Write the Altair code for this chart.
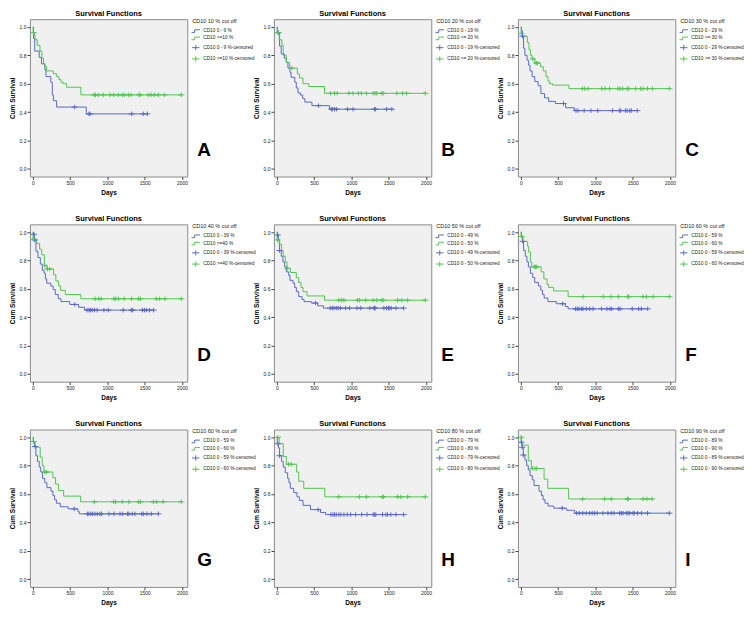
import altair as alt
import pandas as pd

BLUE = "#5a6ac8"
GREEN = "#52c652"
FONT = "Liberation Sans"

# ---------------- data ----------------
# Panel A
A_bt = [0, 8, 25, 85, 115, 160, 175, 240, 260, 275, 318, 716, 1535]
A_bs = [1.0, 0.92, 0.83, 0.785, 0.74, 0.70, 0.65, 0.61, 0.52, 0.48, 0.435, 0.387, 0.387]
A_bc = [560, 752, 765, 1325, 1480, 1535]
A_gt = [0, 3, 20, 30, 58, 95, 120, 143, 160, 184, 273, 318, 349, 376, 407, 452, 644, 1990]
A_gs = [1.0, 0.96, 0.94, 0.91, 0.87, 0.83, 0.78, 0.74, 0.72, 0.69, 0.67, 0.65, 0.63, 0.61, 0.60, 0.575, 0.521, 0.521]
A_gc = [10, 820, 840, 877, 944, 1034, 1083, 1145, 1199, 1226, 1280, 1315, 1420, 1440, 1548, 1584, 1629, 1682, 1763, 1990]
# Panel B
B_bt = [0, 5, 36, 58, 100, 126, 148, 175, 190, 240, 260, 283, 315, 346, 375, 470, 705, 1550]
B_bs = [1.0, 0.96, 0.865, 0.81, 0.78, 0.75, 0.71, 0.68, 0.645, 0.61, 0.57, 0.535, 0.52, 0.495, 0.47, 0.445, 0.42, 0.42]
B_bc = [20, 557, 730, 748, 775, 800, 948, 1020, 1308, 1320, 1470, 1541]
B_gt = [0, 5, 31, 67, 85, 126, 171, 274, 301, 350, 427, 638, 1990]
B_gs = [1.0, 0.96, 0.91, 0.87, 0.80, 0.75, 0.71, 0.67, 0.64, 0.60, 0.58, 0.532, 0.532]
B_gc = [15, 200, 719, 773, 809, 966, 1020, 1092, 1133, 1200, 1290, 1317, 1339, 1407, 1425, 1609, 1685, 1739, 1990]
# Panel C
C_bt = [0, 8, 20, 36, 54, 82, 104, 122, 150, 186, 231, 268, 317, 372, 463, 599, 716, 1560]
C_bs = [1.0, 0.975, 0.935, 0.85, 0.80, 0.765, 0.73, 0.69, 0.65, 0.615, 0.585, 0.53, 0.50, 0.475, 0.46, 0.43, 0.41, 0.41]
C_bc = [22, 571, 739, 766, 848, 939, 1030, 1229, 1320, 1338, 1401, 1424, 1460, 1480, 1560]
C_gt = [0, 3, 15, 86, 109, 127, 150, 186, 263, 300, 336, 363, 381, 426, 644, 1990]
C_gs = [1.0, 0.955, 0.935, 0.89, 0.84, 0.80, 0.775, 0.745, 0.72, 0.69, 0.65, 0.62, 0.60, 0.59, 0.565, 0.565]
C_gc = [8, 159, 204, 222, 825, 857, 902, 1084, 1129, 1188, 1302, 1329, 1365, 1424, 1447, 1537, 1605, 1637, 1696, 1764, 1990]
# Panel D
D_bt = [0, 10, 20, 41, 68, 100, 127, 150, 168, 186, 240, 272, 300, 340, 376, 494, 612, 694, 1620]
D_bs = [1.0, 0.985, 0.945, 0.865, 0.82, 0.775, 0.73, 0.71, 0.67, 0.64, 0.62, 0.595, 0.56, 0.53, 0.51, 0.49, 0.47, 0.45, 0.45]
D_bc = [12, 25, 562, 726, 753, 771, 794, 825, 862, 952, 1011, 1211, 1320, 1338, 1469, 1497, 1524, 1565, 1619]
D_gt = [0, 2, 50, 90, 118, 154, 186, 277, 308, 345, 372, 435, 644, 1990]
D_gs = [1.0, 0.95, 0.92, 0.88, 0.84, 0.765, 0.74, 0.70, 0.655, 0.62, 0.59, 0.56, 0.53, 0.53]
D_gc = [5, 160, 195, 227, 834, 884, 916, 1088, 1111, 1147, 1224, 1324, 1415, 1442, 1655, 1700, 1769, 1990]
# Panel E
E_bt = [0, 8, 20, 36, 58, 81, 104, 126, 158, 175, 216, 238, 261, 292, 337, 364, 463, 548, 625, 1700]
E_bs = [1.0, 0.98, 0.945, 0.87, 0.83, 0.79, 0.755, 0.72, 0.695, 0.66, 0.64, 0.61, 0.58, 0.545, 0.525, 0.51, 0.50, 0.48, 0.464, 0.464]
E_bc = [10, 36, 517, 715, 742, 764, 796, 822, 854, 921, 975, 1074, 1124, 1245, 1303, 1308, 1317, 1434, 1470, 1497, 1506, 1533, 1596, 1699]
E_gt = [0, 2, 31, 63, 85, 112, 135, 180, 260, 292, 324, 350, 404, 638, 1990]
E_gs = [1.0, 0.945, 0.915, 0.87, 0.83, 0.79, 0.745, 0.715, 0.68, 0.645, 0.61, 0.58, 0.55, 0.52, 0.52]
E_gc = [8, 140, 831, 867, 899, 1083, 1106, 1191, 1290, 1339, 1407, 1425, 1618, 1676, 1753, 1990]
# Panel F
F_bt = [0, 8, 22, 36, 59, 81, 100, 127, 158, 186, 235, 267, 290, 312, 362, 475, 597, 633, 1700]
F_bs = [1.0, 0.97, 0.935, 0.87, 0.83, 0.79, 0.755, 0.71, 0.68, 0.645, 0.62, 0.59, 0.56, 0.535, 0.51, 0.495, 0.475, 0.459, 0.459]
F_bc = [25, 561, 733, 756, 778, 810, 833, 878, 923, 968, 1081, 1154, 1195, 1217, 1308, 1330, 1493, 1579, 1615, 1700]
F_gt = [0, 2, 27, 90, 104, 127, 145, 271, 308, 350, 371, 439, 633, 1990]
F_gs = [1.0, 0.97, 0.935, 0.90, 0.86, 0.79, 0.755, 0.72, 0.67, 0.63, 0.61, 0.585, 0.545, 0.545]
F_gc = [10, 177, 195, 213, 833, 1104, 1208, 1308, 1430, 1448, 1638, 1683, 1774, 1990]
# Panel G
G_bt = [0, 8, 22, 40, 62, 85, 105, 130, 160, 188, 242, 268, 290, 315, 367, 474, 604, 622, 1690]
G_bs = [1.0, 0.97, 0.935, 0.87, 0.83, 0.79, 0.755, 0.71, 0.68, 0.645, 0.62, 0.59, 0.56, 0.535, 0.51, 0.495, 0.475, 0.46, 0.46]
G_bc = [30, 555, 733, 752, 778, 801, 832, 864, 899, 922, 1020, 1087, 1168, 1204, 1270, 1288, 1333, 1369, 1459, 1481, 1530, 1588, 1682]
G_gt = [0, 3, 27, 98, 125, 148, 268, 304, 345, 412, 640, 1990]
G_gs = [1.0, 0.97, 0.93, 0.86, 0.80, 0.755, 0.715, 0.67, 0.625, 0.585, 0.545, 0.545]
G_gc = [8, 161, 183, 823, 1083, 1110, 1199, 1289, 1414, 1441, 1615, 1660, 1745, 1990]
# Panel H
H_bt = [0, 5, 22, 36, 63, 85, 112, 144, 162, 180, 225, 270, 301, 350, 450, 585, 652, 1700]
H_bs = [1.0, 0.955, 0.925, 0.87, 0.83, 0.79, 0.75, 0.71, 0.68, 0.64, 0.61, 0.58, 0.555, 0.52, 0.49, 0.47, 0.455, 0.455]
H_bc = [13, 36, 553, 724, 751, 773, 796, 831, 858, 899, 944, 989, 1056, 1137, 1209, 1290, 1308, 1326, 1416, 1461, 1483, 1528, 1596, 1699]
H_gt = [0, 31, 85, 126, 265, 292, 360, 643, 1990]
H_gs = [1.0, 0.955, 0.865, 0.81, 0.755, 0.69, 0.64, 0.58, 0.58]
H_gc = [13, 157, 193, 831, 1106, 1200, 1416, 1425, 1618, 1663, 1753, 1990]
# Panel I
I_bt = [0, 5, 18, 32, 54, 77, 99, 122, 153, 176, 243, 275, 297, 324, 365, 441, 613, 721, 1990]
I_bs = [1.0, 0.965, 0.93, 0.875, 0.84, 0.80, 0.77, 0.73, 0.70, 0.66, 0.62, 0.59, 0.56, 0.535, 0.515, 0.50, 0.485, 0.465, 0.465]
I_bc = [6, 18, 32, 554, 748, 784, 829, 874, 919, 955, 986, 1022, 1099, 1167, 1212, 1248, 1324, 1347, 1369, 1414, 1437, 1459, 1504, 1518, 1563, 1617, 1698, 1990]
I_gt = [0, 9, 99, 140, 311, 360, 640, 1760]
I_gs = [1.0, 0.945, 0.835, 0.78, 0.705, 0.64, 0.565, 0.565]
I_gc = [3, 158, 189, 212, 829, 1122, 1212, 1428, 1437, 1640, 1690, 1760]

LETTERS = ["A", "B", "C", "D", "E", "F", "G", "H", "I"]
LEGEND_TITLES = ["CD10 10 % cut off", "CD10 20 % cut off", "CD10 30 % cut off",
                 "CD10 40 % cut off", "CD10 50 % cut off", "CD10 60 % cut off",
                 "CD10 60 % cut off", "CD10 80 % cut off", "CD10 90 % cut off"]
LOW_LABELS = ["CD10 0 - 9 %", "CD10 0 - 19 %", "CD10 0 - 29 %",
              "CD10 0 - 39 %", "CD10 0 - 49 %", "CD10 0 - 59 %",
              "CD10 0 - 59 %", "CD10 0 - 79 %", "CD10 0 - 89 %"]
HIGH_LABELS = ["CD10 >=10 %", "CD10 >= 20 %", "CD10 >= 30 %",
               "CD10 >=40 %", "CD10 0 - 50 %", "CD10 0 - 60 %",
               "CD10 0 - 60 %", "CD10 0 - 80 %", "CD10 0 - 90 %"]
X_TICKS = [0, 500, 1000, 1500, 2000]
Y_TICKS = [0.0, 0.2, 0.4, 0.6, 0.8, 1.0]

SERIES = {
    "A": (A_bt, A_bs, A_bc, A_gt, A_gs, A_gc),
    "B": (B_bt, B_bs, B_bc, B_gt, B_gs, B_gc),
    "C": (C_bt, C_bs, C_bc, C_gt, C_gs, C_gc),
    "D": (D_bt, D_bs, D_bc, D_gt, D_gs, D_gc),
    "E": (E_bt, E_bs, E_bc, E_gt, E_gs, E_gc),
    "F": (F_bt, F_bs, F_bc, F_gt, F_gs, F_gc),
    "G": (G_bt, G_bs, G_bc, G_gt, G_gs, G_gc),
    "H": (H_bt, H_bs, H_bc, H_gt, H_gs, H_gc),
    "I": (I_bt, I_bs, I_bc, I_gt, I_gs, I_gc),
}

STEP = "M-1.6,0.5L-0.4,0.5L-0.4,-0.5L1.6,-0.5"
PLUS = "M-1.4,0L1.4,0M0,-1L0,1"

W, H = 158, 158


def level_at(ts, ss, t):
    v = ss[0]
    for ti, si in zip(ts, ss):
        if ti <= t:
            v = si
        else:
            break
    return v


def panel(i):
    key = LETTERS[i]
    bt, bs, bc, gt, gs, gc = SERIES[key]
    g1, g2 = LOW_LABELS[i], HIGH_LABELS[i]
    c1, c2 = g1 + "-censored", g2 + "-censored"
    dom = [g1, g2, c1, c2]
    lines = pd.DataFrame({"t": bt + gt, "s": bs + gs,
                          "grp": [g1] * len(bt) + [g2] * len(gt)})
    cens = pd.DataFrame({
        "t": bc + gc,
        "s": [level_at(bt, bs, t) for t in bc] + [level_at(gt, gs, t) for t in gc],
        "grp": [c1] * len(bc) + [c2] * len(gc),
    })
    x = alt.X("t:Q", scale=alt.Scale(domain=[-40, 2070], nice=False, zero=False),
              axis=alt.Axis(values=X_TICKS, format="d", title="Days"))
    y = alt.Y("s:Q", scale=alt.Scale(domain=[-0.055, 1.055], nice=False, zero=False),
              axis=alt.Axis(values=Y_TICKS, format=".1f", title="Cum Survival"))
    title = LEGEND_TITLES[i]
    color = alt.Color("grp:N", title=title,
                      scale=alt.Scale(domain=dom, range=[BLUE, GREEN, BLUE, GREEN]),
                      legend=alt.Legend(title=title))
    shape = alt.Shape("grp:N", title=title,
                      scale=alt.Scale(domain=dom, range=[STEP, STEP, PLUS, PLUS]),
                      legend=alt.Legend(title=title))
    line = alt.Chart(lines).mark_line(interpolate="step-after", strokeWidth=1).encode(
        x=x, y=y, color=color)
    pts = alt.Chart(cens).mark_point(filled=False, size=20, strokeWidth=1, opacity=1).encode(
        x=x, y=y, color=color, shape=shape)
    letter = alt.Chart(pd.DataFrame({"L": [key]})).mark_text(
        font=FONT, fontSize=19, fontWeight="bold", color="black",
        align="left", baseline="middle").encode(
        text="L:N", x=alt.value(W + 10), y=alt.value(131))
    return alt.layer(line, pts, letter).properties(
        width=W, height=H,
        title=alt.TitleParams("Survival Functions", fontSize=7.5, fontWeight="bold",
                              font=FONT, color="black", offset=2))


chart = alt.concat(*[panel(i) for i in range(9)], columns=3,
                   spacing={"row": 48, "column": 87}, bounds="flush").resolve_scale(
    color="independent", shape="independent").resolve_legend(
    color="independent", shape="independent").properties(
    padding=0
).configure_view(fill="#f0f0f0", stroke="#8a8a8a", strokeWidth=1).configure_axis(
    labelFont=FONT, labelFontSize=5, labelColor="#222222", labelPadding=1,
    tickSize=3, tickColor="#444444", domain=False, grid=False,
    titleFont=FONT, titleFontSize=6.5, titleFontWeight="bold", titleColor="black",
    titlePadding=4).configure_legend(
    titleFont=FONT, titleFontSize=5.5, titleFontWeight="normal", titleColor="#222222",
    titlePadding=3, labelFont=FONT, labelFontSize=4.8, labelColor="#222222",
    labelOffset=4, symbolSize=28, symbolStrokeWidth=1, rowPadding=0.3,
    offset=5, padding=0)

chart.save("out.html", embed_options={"renderer": "svg", "actions": False})
